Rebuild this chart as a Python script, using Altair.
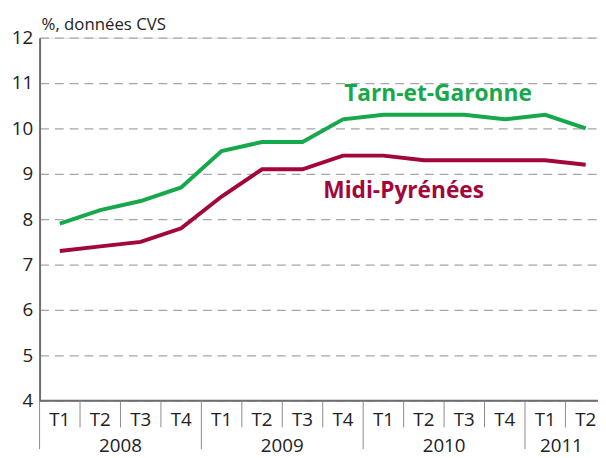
import altair as alt
import pandas as pd

quarters = ["T1", "T2", "T3", "T4", "T1", "T2", "T3", "T4", "T1", "T2", "T3", "T4", "T1", "T2"]
years = ["2008", "2009", "2010", "2011"]
year_centers = [2, 6, 10, 12.9]
year_bounds = [0, 4, 8, 12]
tarn = [7.9, 8.2, 8.4, 8.7, 9.5, 9.7, 9.7, 10.2, 10.3, 10.3, 10.3, 10.2, 10.3, 10.0]
midi = [7.3, 7.4, 7.5, 7.8, 8.5, 9.1, 9.1, 9.4, 9.4, 9.3, 9.3, 9.3, 9.3, 9.2]
series_names = ["Tarn-et-Garonne", "Midi-Pyrénées"]
colors = ["#17a84b", "#a3063a"]

FONT = "Open Sans"
W, H = 566, 368
XMAX = W / 41.0

rows = []
for i, (a, b) in enumerate(zip(tarn, midi)):
    rows.append({"x": i + 0.5, "v": a, "s": series_names[0]})
    rows.append({"x": i + 0.5, "v": b, "s": series_names[1]})
df = pd.DataFrame(rows)

xs = alt.Scale(domain=[0, XMAX], nice=False, zero=False)
ys = alt.Scale(domain=[4, 12], nice=False, zero=False)

lines = alt.Chart(df).mark_line(strokeWidth=4, clip=False).encode(
    x=alt.X("x:Q", scale=xs, axis=None),
    y=alt.Y("v:Q", scale=ys, axis=alt.Axis(
        values=list(range(4, 13)), grid=True, gridDash=[9, 6], gridColor="#a6a6a6",
        gridWidth=1.3, domainColor="#6e6e6e", domainWidth=2, ticks=False,
        labelFontSize=19, labelFont=FONT, labelColor="#222222", labelPadding=7,
        title=None)),
    color=alt.Color("s:N", scale=alt.Scale(domain=series_names, range=colors), legend=None),
)

xaxis_line = alt.Chart(pd.DataFrame({"a": [0]})).mark_rule(color="#6e6e6e", strokeWidth=2).encode(
    x=alt.value(0), x2=alt.value(W), y=alt.value(H)
)

qdf = pd.DataFrame({"x": [i + 0.5 for i in range(len(quarters))], "q": quarters})
qtext = alt.Chart(qdf).mark_text(fontSize=19, font=FONT, color="#222222", baseline="middle").encode(
    x=alt.X("x:Q", scale=xs), y=alt.value(H + 20), text="q:N"
)

sep_df = pd.DataFrame({"x": [i for i in range(1, len(quarters) + 1) if i not in year_bounds]})
seps = alt.Chart(sep_df).mark_rule(color="#8a8a8a", strokeWidth=1).encode(
    x=alt.X("x:Q", scale=xs), y=alt.value(H), y2=alt.value(H + 27)
)
ysep_df = pd.DataFrame({"x": year_bounds})
yseps = alt.Chart(ysep_df).mark_rule(color="#8a8a8a", strokeWidth=1).encode(
    x=alt.X("x:Q", scale=xs), y=alt.value(H), y2=alt.value(H + 49)
)

ydf = pd.DataFrame({"x": year_centers, "y": years})
ytext = alt.Chart(ydf).mark_text(fontSize=19, font=FONT, color="#222222", baseline="middle").encode(
    x=alt.X("x:Q", scale=xs), y=alt.value(H + 46), text="y:N"
)

ldf = pd.DataFrame({"x": [9.85, 9.0], "v": [10.6, 8.47], "s": series_names})
labels = alt.Chart(ldf).mark_text(fontSize=23, font=FONT, fontWeight="bold", baseline="alphabetic").encode(
    x=alt.X("x:Q", scale=xs), y=alt.Y("v:Q", scale=ys), text="s:N",
    color=alt.Color("s:N", scale=alt.Scale(domain=series_names, range=colors), legend=None),
)

unit = alt.Chart(pd.DataFrame({"t": ["%, données CVS"]})).mark_text(
    fontSize=17, font=FONT, color="#222222", align="left", baseline="alphabetic"
).encode(x=alt.value(2), y=alt.value(-8), text="t:N")

chart = alt.layer(lines, xaxis_line, seps, yseps, qtext, ytext, labels, unit).properties(
    width=W, height=H,
    autosize=alt.AutoSizeParams(type="none"),
    padding={"left": 32, "top": 27, "right": 0, "bottom": 54},
).configure_view(stroke=None).configure(background="white")

chart.save("out.html", embed_options={"renderer": "svg", "actions": False})
